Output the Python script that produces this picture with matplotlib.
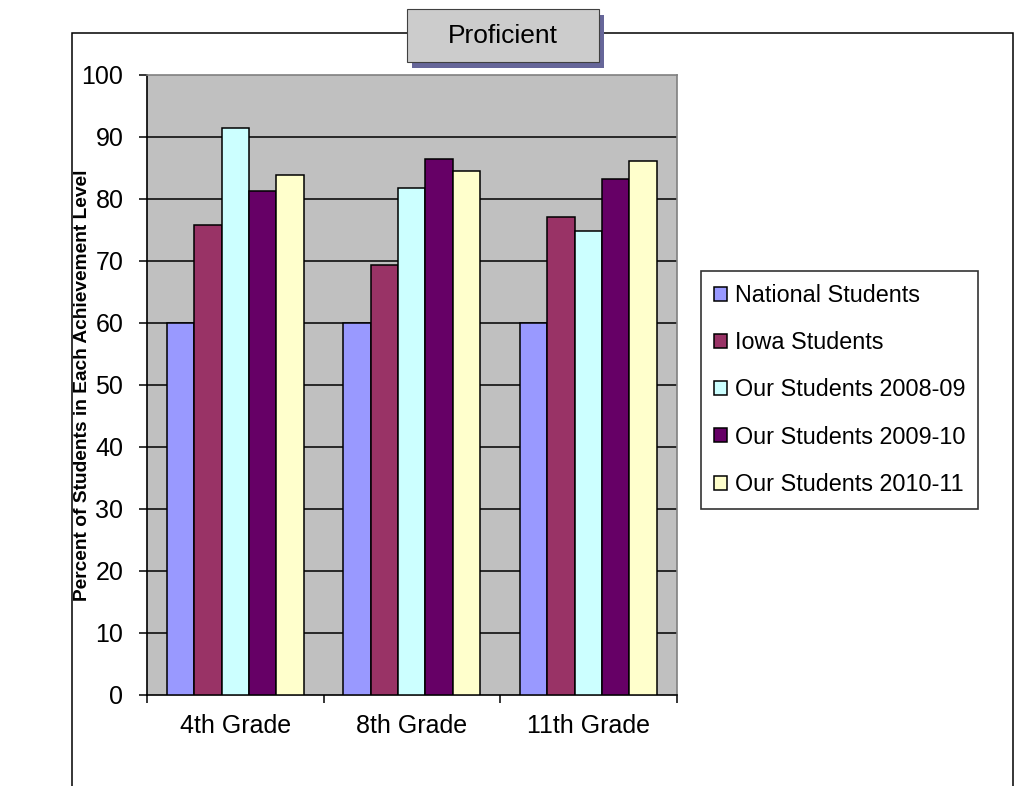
import numpy as np
from matplotlib import pyplot as plt
from matplotlib.patches import Rectangle

plt.rcParams['font.family'] = ['Liberation Sans', 'DejaVu Sans']

# data
grades = ['4th Grade', '8th Grade', '11th Grade']
series = ['National Students', 'Iowa Students', 'Our Students 2008-09',
          'Our Students 2009-10', 'Our Students 2010-11']
national = [60, 60, 60]
iowa = [75.8, 69.4, 77.1]
ours_0809 = [91.5, 81.8, 74.8]
ours_0910 = [81.3, 86.4, 83.2]
ours_1011 = [83.8, 84.5, 86.1]
values = [national, iowa, ours_0809, ours_0910, ours_1011]
colors = ['#9999ff', '#993366', '#ccffff', '#660066', '#ffffcc']

fig = plt.figure(figsize=(10.25, 7.86), dpi=100)
ax = fig.add_axes([147/1025, 1-694.5/786, (676.5-147)/1025, (694.5-75)/786])
ax.set_facecolor('#c0c0c0')

x = np.arange(len(grades))
w = 0.155
for i in range(len(series)):
    ax.bar(x + (i-2)*w, values[i], w, color=colors[i], edgecolor='black',
           linewidth=1.1, label=series[i], zorder=3)

ax.set_xlim(-0.5, 2.5)
ax.set_ylim(0, 100)
ax.set_yticks(np.arange(0, 101, 10))
for v in range(10, 100, 10):
    ax.axhline(v, color='black', linewidth=1.1, zorder=1)

ax.set_xticks(x)
ax.set_xticklabels(grades)
ax.set_xticks([-0.5, 0.5, 1.5, 2.5], minor=True)
ax.tick_params(axis='x', which='major', length=0, pad=14, labelsize=18)
ax.tick_params(axis='x', which='minor', length=6, width=1.1, direction='out')
ax.tick_params(axis='y', length=6, width=1.1, direction='out', pad=11, labelsize=18)

for s in ['left', 'bottom']:
    ax.spines[s].set_color('black')
    ax.spines[s].set_linewidth(1.2)
for s in ['top', 'right']:
    ax.spines[s].set_color('#808080')
    ax.spines[s].set_linewidth(1.2)

fig.text(83/1025, 1-385/786, 'Percent of Students in Each Achievement Level',
         rotation=90, ha='center', va='center', fontsize=13.8, fontweight='bold')

# outer chart border
fig.patches.append(Rectangle((72/1025, -0.1), (1013-72)/1025, 1.1-33/786,
                             transform=fig.transFigure, fill=False,
                             edgecolor='black', linewidth=1.1, zorder=0))

# title box with shadow
fig.patches.append(Rectangle((412/1025, 1-68/786), 192/1025, 53/786,
                             transform=fig.transFigure, facecolor='#666699',
                             edgecolor='none', zorder=2))
fig.patches.append(Rectangle((407/1025, 1-62/786), 192/1025, 53/786,
                             transform=fig.transFigure, facecolor='#cccccc',
                             edgecolor='#404040', linewidth=0.8, zorder=3))
fig.text(503/1025, 1-36/786, 'Proficient', ha='center', va='center',
         fontsize=19, zorder=4)

leg = fig.legend(loc='upper left', bbox_to_anchor=(701/1025, 1-271/786),
                 fontsize=16.8, frameon=True, fancybox=False, handlelength=0.55,
                 handleheight=0.55, handletextpad=0.35, labelspacing=1.04,
                 borderpad=0.55, borderaxespad=0)
leg.get_frame().set_edgecolor('black')
leg.get_frame().set_linewidth(1.2)

plt.savefig('out.png', dpi=100)
